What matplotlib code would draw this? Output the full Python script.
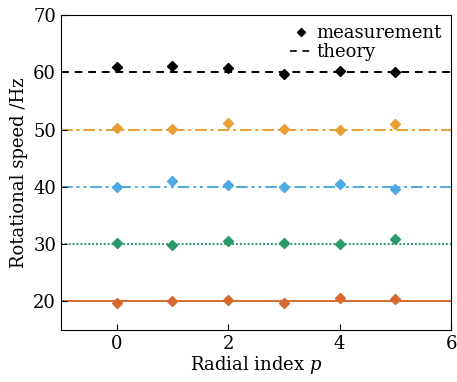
import matplotlib.pyplot as plt

plt.rcParams['font.family'] = 'DejaVu Serif'
plt.rcParams['mathtext.fontset'] = 'dejavuserif'

# radial index
p = [0, 1, 2, 3, 4, 5]

# theory values (Hz)
theory = [60, 50, 40, 30, 20]

# measured values (Hz), one list per theory line
meas_60 = [61.0, 61.15, 60.8, 59.7, 60.3, 60.1]
meas_50 = [50.2, 50.05, 51.2, 50.05, 50.0, 51.0]
meas_40 = [39.9, 41.1, 40.4, 40.05, 40.5, 39.7]
meas_30 = [30.2, 29.9, 30.6, 30.2, 30.0, 30.9]
meas_20 = [19.7, 20.15, 20.3, 19.8, 20.55, 20.4]

measured = [meas_60, meas_50, meas_40, meas_30, meas_20]
colors = ['black', '#E8A035', '#4DAAE0', '#2A9A6A', '#D66A2E']
styles = [(0, (4, 3)), (0, (6, 2, 1.5, 2)), (0, (6, 2, 1.5, 2, 1.5, 2)), (0, (1, 1)), '-']

fig = plt.figure(figsize=(4.57, 3.82), dpi=100)
ax = fig.add_axes([0.1335, 0.1361, 0.8534, 0.8246])

for th, m, c, ls in zip(theory, measured, colors, styles):
    ax.axhline(th, color=c, linestyle=ls, linewidth=1.4, zorder=1)
    ax.plot(p, m, 'D', color=c, markersize=5.5, linestyle='none', zorder=2)

# legend proxies
ax.plot([], [], 'D', color='black', markersize=4.5, linestyle='none', label='measurement')
ax.plot([], [], color='black', linestyle=(0, (4, 3.5)), linewidth=1.2, label='theory')
ax.legend(loc='upper right', frameon=False, fontsize=13, handlelength=1.3,
          handletextpad=0.2, borderaxespad=0.1, labelspacing=0.05)

ax.set_xlim(-1, 6)
ax.set_ylim(15, 70)
ax.set_xticks([0, 2, 4, 6])
ax.set_yticks([20, 30, 40, 50, 60, 70])
ax.tick_params(direction='in', labelsize=13, length=4)
ax.set_xlabel('Radial index $p$', fontsize=13, labelpad=1)
ax.set_ylabel('Rotational speed /Hz', fontsize=13, labelpad=4)

fig.savefig('out.png', dpi=100)
